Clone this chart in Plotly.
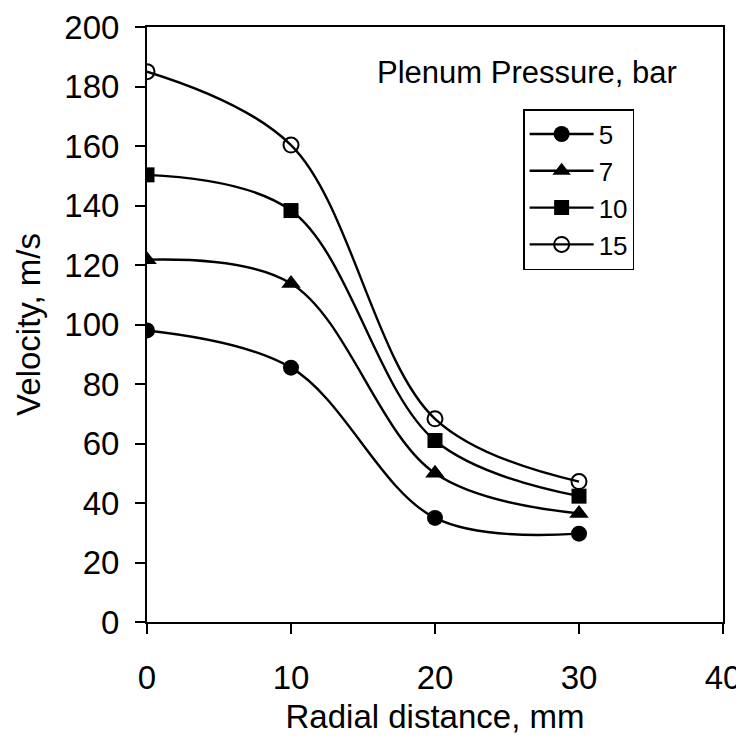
import plotly.graph_objects as go

radial_mm = [0, 10, 20, 30]
v_5bar = [98, 85.5, 35, 29.7]
v_7bar = [121.8, 113.8, 50, 36.5]
v_10bar = [150.3, 138.3, 61, 42.3]
v_15bar = [185, 160.3, 68.3, 47.2]

series = [
    ("5", v_5bar, dict(symbol="circle", size=16, color="black")),
    ("7", v_7bar, dict(symbol="triangle-up", size=17, color="black")),
    ("10", v_10bar, dict(symbol="square", size=15, color="black")),
    ("15", v_15bar, dict(symbol="circle-open", size=15, color="black", line=dict(width=2))),
]

fig = go.Figure()
for name, vals, mk in series:
    fig.add_trace(go.Scatter(
        x=radial_mm, y=vals, name=name, mode="lines+markers",
        line=dict(color="black", width=2.4, shape="spline", smoothing=1.0),
        marker=mk,
    ))

font_family = "Liberation Sans, Arial, sans-serif"
fig.update_layout(
    width=736, height=742,
    margin=dict(l=139, r=21, t=19, b=128, autoexpand=False),
    paper_bgcolor="white", plot_bgcolor="white",
    font=dict(family=font_family, color="black", size=33),
    showlegend=True,
    legend=dict(
        x=0.653, y=0.862, xanchor="left", yanchor="top",
        bordercolor="black", borderwidth=1.5, bgcolor="white",
        font=dict(size=26), itemwidth=64, tracegroupgap=0,
    ),
    annotations=[dict(
        text="Plenum Pressure, bar", x=0.659, y=0.924, xref="paper", yref="paper",
        xanchor="center", yanchor="middle", showarrow=False,
        font=dict(size=31, family=font_family),
    )],
)
fig.update_xaxes(
    range=[0, 40], tickvals=[0, 10, 20, 30, 40], showgrid=False, zeroline=False,
    showline=True, linecolor="black", linewidth=2, mirror=True, automargin=False,
    ticks="outside", ticklen=10, tickwidth=1.5, tickcolor="black",
    tickfont=dict(size=33), ticklabelstandoff=15,
    title=dict(text="Radial distance, mm", font=dict(size=33), standoff=10),
)
fig.update_yaxes(
    range=[0, 200], tickvals=list(range(0, 201, 20)), showgrid=False, zeroline=False,
    showline=True, linecolor="black", linewidth=2, mirror=True, automargin=False,
    ticks="outside", ticklen=10, tickwidth=1.5, tickcolor="black",
    tickfont=dict(size=33), ticklabelstandoff=9,
    title=dict(text="Velocity, m/s", font=dict(size=33), standoff=14),
)
fig.write_html("out.html")
